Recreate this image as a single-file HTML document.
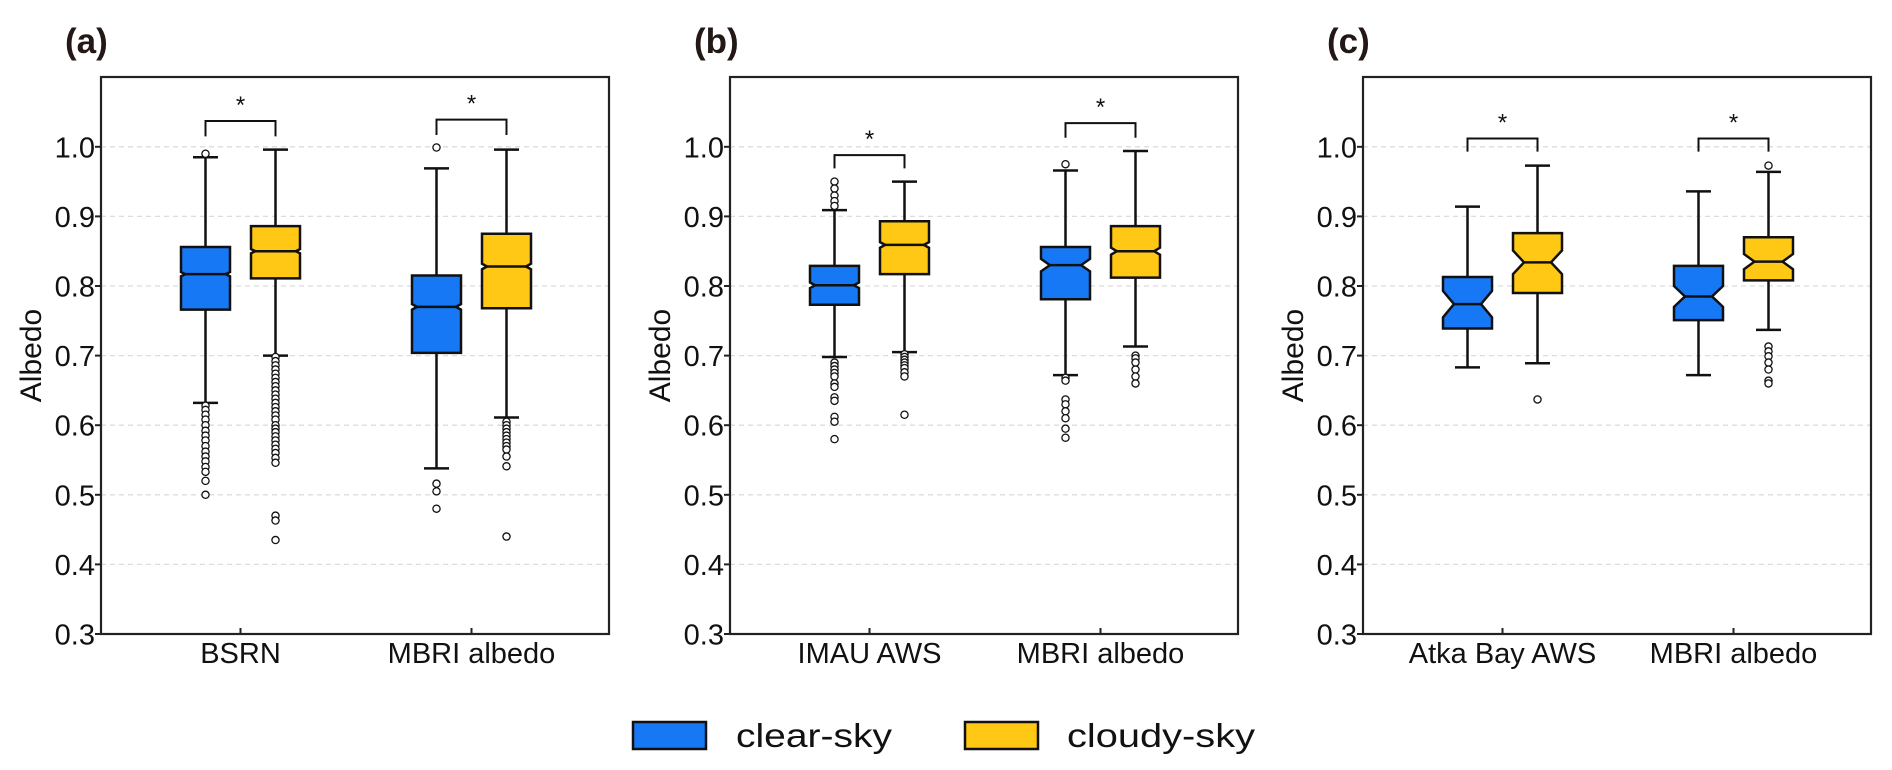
<!DOCTYPE html>
<html><head><meta charset="utf-8"><style>
html,body{margin:0;padding:0;background:#fff;}
svg{display:block;font-family:"Liberation Sans",Arial,sans-serif;}
</style></head><body>
<svg id="fig" width="1892" height="770" viewBox="0 0 1892 770" xmlns="http://www.w3.org/2000/svg"></svg>
<script>
// ---- data ----
const panelLabels = ["(a)", "(b)", "(c)"];
const categories = [["BSRN", "MBRI albedo"], ["IMAU AWS", "MBRI albedo"], ["Atka Bay AWS", "MBRI albedo"]];
const seriesNames = ["clear-sky", "cloudy-sky"];
const yTicks = [0.3, 0.4, 0.5, 0.6, 0.7, 0.8, 0.9, 1.0];
const yTickLabels = ["0.3", "0.4", "0.5", "0.6", "0.7", "0.8", "0.9", "1.0"];
// per box: [whiskerLow, Q1, median, Q3, whiskerHigh] ; order: panel, category, series
const clearStats = [
  [[0.632, 0.766, 0.817, 0.856, 0.985], [0.538, 0.704, 0.770, 0.815, 0.969]],
  [[0.698, 0.773, 0.801, 0.829, 0.909], [0.672, 0.781, 0.830, 0.856, 0.966]],
  [[0.683, 0.739, 0.774, 0.813, 0.914], [0.672, 0.751, 0.785, 0.829, 0.936]]
];
const cloudyStats = [
  [[0.700, 0.811, 0.850, 0.886, 0.996], [0.611, 0.768, 0.828, 0.875, 0.996]],
  [[0.705, 0.817, 0.859, 0.893, 0.950], [0.713, 0.812, 0.850, 0.886, 0.994]],
  [[0.689, 0.790, 0.834, 0.876, 0.973], [0.737, 0.808, 0.835, 0.870, 0.964]]
];
// notch half-height (albedo units)
const clearNotch = [[0.003, 0.004], [0.004, 0.009], [0.019, 0.015]];
const cloudyNotch = [[0.003, 0.004], [0.004, 0.005], [0.017, 0.011]];
const clearOutliers = [
  [[0.990, 0.628, 0.622, 0.615, 0.608, 0.600, 0.592, 0.585, 0.578, 0.570, 0.562, 0.555, 0.548, 0.540, 0.533, 0.520, 0.500],
   [0.999, 0.516, 0.505, 0.480]],
  [[0.950, 0.940, 0.930, 0.922, 0.915, 0.690, 0.685, 0.680, 0.675, 0.670, 0.660, 0.655, 0.640, 0.635, 0.612, 0.605, 0.580],
   [0.975, 0.668, 0.664, 0.637, 0.630, 0.620, 0.610, 0.595, 0.582]],
  [[], []]
];
const cloudyOutliers = [
  [[0.698, 0.692, 0.686, 0.680, 0.674, 0.668, 0.662, 0.656, 0.650, 0.644, 0.638, 0.632, 0.626, 0.620, 0.614, 0.608, 0.600, 0.595, 0.590, 0.584, 0.578, 0.572, 0.566, 0.560, 0.553, 0.546, 0.470, 0.463, 0.435],
   [0.605, 0.600, 0.595, 0.590, 0.585, 0.580, 0.575, 0.570, 0.565, 0.555, 0.541, 0.440]],
  [[0.702, 0.698, 0.694, 0.690, 0.686, 0.682, 0.676, 0.670, 0.615],
   [0.700, 0.696, 0.690, 0.680, 0.670, 0.660]],
  [[0.637], [0.973, 0.713, 0.706, 0.699, 0.690, 0.680, 0.664, 0.660]]
];
const bracketLevels = [[1.037, 1.039], [0.988, 1.034], [1.012, 1.012]];
const bracketLegDrop = [[0.022, 0.022], [0.019, 0.021], [0.019, 0.019]];

// ---- layout ----
const NS = "http://www.w3.org/2000/svg";
const svg = document.getElementById("fig");
const panelLeft = [101, 730, 1363];
const panelW = 508, plotTop = 77, plotBottom = 634;
const yMin = 0.3, pxPerUnit = 696;
const colors = ["#1778f6", "#ffc815"];
function yScale(v) { return plotBottom - (v - yMin) * pxPerUnit; }
function catX(p, c) { return panelLeft[p] + (c === 0 ? 139.5 : 370.5); }
function mk(tag, attrs, parent) {
  const e = document.createElementNS(NS, tag);
  for (const k in attrs) e.setAttribute(k, attrs[k]);
  (parent || svg).appendChild(e);
  return e;
}

for (let p = 0; p < 3; p++) {
  const L = panelLeft[p];
  const g = mk("g", {});
  
  
  // grid
  yTicks.forEach((t, i) => {
    if (t > 0.35) {
      const gl = mk("line", {x1: L, x2: L + panelW, y1: yScale(t), y2: yScale(t), stroke: "#dcdcdc", "stroke-width": 1.3, "stroke-dasharray": "5,4"}, g);
      
      
    }
    const tk = mk("line", {x1: L - 6, x2: L, y1: yScale(t), y2: yScale(t), stroke: "#222", "stroke-width": 2}, g);
    
    
    const tl = mk("text", {x: L - 6, y: yScale(t) + 10.5, "text-anchor": "end", "font-size": 29, fill: "#111"}, g);
    tl.textContent = yTickLabels[i];
    
    
  });
  // y title
  const yt = mk("text", {x: 0, y: 0, transform: `translate(${L - 60},${(plotTop + plotBottom) / 2}) rotate(-90)`, "text-anchor": "middle", "font-size": 30, fill: "#111"}, g);
  yt.textContent = "Albedo";
  
  
  // panel label
  const pl = mk("text", {x: L - 36, y: 53, "font-size": 35, "font-weight": "bold", fill: "#231815"}, g);
  pl.textContent = panelLabels[p];
  
  

  for (let c = 0; c < 2; c++) {
    const cx = catX(p, c);
    const xt = mk("line", {x1: cx, x2: cx, y1: plotBottom, y2: plotBottom - 6, stroke: "#222", "stroke-width": 2}, g);
    
    
    const xl = mk("text", {x: cx, y: 663, "text-anchor": "middle", "font-size": 29, fill: "#111"}, g);
    xl.textContent = categories[p][c];
    
    

    for (let s = 0; s < 2; s++) {
      const st = (s === 0 ? clearStats : cloudyStats)[p][c];
      const nh = (s === 0 ? clearNotch : cloudyNotch)[p][c];
      const outs = (s === 0 ? clearOutliers : cloudyOutliers)[p][c];
      const bx = cx + (s === 0 ? -35 : 35);
      const hw = 24.5;
      const bg = mk("g", {}, g);
      
      
      const [wl, q1, med, q3, wh] = st;
      // whiskers
      mk("line", {x1: bx, x2: bx, y1: yScale(wh), y2: yScale(q3), stroke: "#111", "stroke-width": 2.5}, bg);
      mk("line", {x1: bx, x2: bx, y1: yScale(q1), y2: yScale(wl), stroke: "#111", "stroke-width": 2.5}, bg);
      mk("line", {x1: bx - 12.5, x2: bx + 12.5, y1: yScale(wh), y2: yScale(wh), stroke: "#111", "stroke-width": 2.5}, bg);
      mk("line", {x1: bx - 12.5, x2: bx + 12.5, y1: yScale(wl), y2: yScale(wl), stroke: "#111", "stroke-width": 2.5}, bg);
      // notched box
      const nPx = nh * pxPerUnit;
      const ind = Math.min(11, nPx * 1.1 + 2);
      const yq3 = yScale(q3), yq1 = yScale(q1), ym = yScale(med);
      const nt = Math.max(yq3, ym - nPx), nb = Math.min(yq1, ym + nPx);
      const pts = [[bx - hw, yq3], [bx + hw, yq3], [bx + hw, nt], [bx + hw - ind, ym], [bx + hw, nb], [bx + hw, yq1],
        [bx - hw, yq1], [bx - hw, nb], [bx - hw + ind, ym], [bx - hw, nt]];
      mk("polygon", {points: pts.map(q => q.join(",")).join(" "), fill: colors[s], stroke: "#111", "stroke-width": 2.5, "stroke-linejoin": "miter"}, bg);
      mk("line", {x1: bx - hw + ind, x2: bx + hw - ind, y1: ym, y2: ym, stroke: "#111", "stroke-width": 2.5}, bg);
      outs.forEach(v => {
        const o = mk("circle", {cx: bx, cy: yScale(v), r: 3.6, fill: "#fff", stroke: "#111", "stroke-width": 1.3}, bg);
        
        
      });
    }
    // significance bracket
    const by = yScale(bracketLevels[p][c]);
    const drop = bracketLegDrop[p][c] * pxPerUnit;
    const br = mk("path", {d: `M${cx - 35},${by + drop} V${by} H${cx + 35} V${by + drop}`, fill: "none", stroke: "#111", "stroke-width": 2}, g);
    
    
    const star = mk("text", {x: cx, y: by - 8, "text-anchor": "middle", "font-size": 24, fill: "#111"}, g);
    star.textContent = "*";
    
    
  }
  const fr = mk("rect", {x: L, y: plotTop, width: panelW, height: plotBottom - plotTop, fill: "none", stroke: "#222", "stroke-width": 2.2}, g);
  
  
}

// legend
const legX = [633, 965], legTX = [736, 1067], legTL = [156, 188];
const lg = mk("g", {});


for (let s = 0; s < 2; s++) {
  const e = mk("g", {}, lg);
  
  
  mk("rect", {x: legX[s], y: 722, width: 73, height: 27, fill: colors[s], stroke: "#111", "stroke-width": 2.5}, e);
  const t = mk("text", {x: legTX[s], y: 747, "font-size": 33, fill: "#111", textLength: legTL[s], lengthAdjust: "spacingAndGlyphs"}, e);
  t.textContent = seriesNames[s];
}
</script>
</body></html>
